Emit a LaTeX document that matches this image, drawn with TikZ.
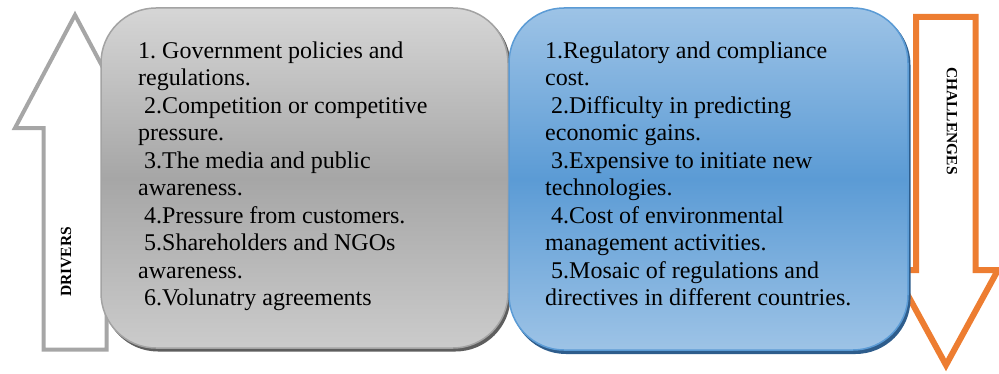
\documentclass[tikz,border=0pt]{standalone}
\usepackage{fontspec}
\setmainfont{Liberation Serif}
\frenchspacing
\definecolor{arrgray}{HTML}{A6A6A6}
\definecolor{arrorange}{HTML}{ED7D31}
\definecolor{gtop}{HTML}{D6D6D6}
\definecolor{gmid}{HTML}{A6A6A6}
\definecolor{gbot}{HTML}{CBCBCB}
\definecolor{gline}{HTML}{A3A3A3}
\definecolor{gshadow}{HTML}{5E5E5E}
\definecolor{btop}{HTML}{9DC3E6}
\definecolor{bmid}{HTML}{5B9BD5}
\definecolor{bbot}{HTML}{9DC3E6}
\definecolor{bline}{HTML}{5B9BD5}
\definecolor{bshadow}{HTML}{2E5D8C}
\tikzset{
  bigarrow/.style={fill=white, line join=miter},
  box/.style={rounded corners=55pt, line width=1.5pt},
  boxtext/.style={anchor=north west, inner sep=0pt, align=left,
    font=\fontsize{24}{27.5}\selectfont, text=black},
  arrlabel/.style={inner sep=0pt, font=\bfseries\fontsize{15.5}{16}\selectfont}
}
\begin{document}
\begin{tikzpicture}[x=1pt,y=1pt]
\useasboundingbox (0,0) rectangle (999,373);
% left arrow (drivers)
\draw[bigarrow, draw=arrgray, line width=4pt]
  (75,358) -- (15,245) -- (43.5,245) -- (43.5,23.5) -- (106.5,23.5)
  -- (106.5,245) -- (135,245) -- cycle;
\node[arrlabel, rotate=90] (drivers) at (66,111) {DRIVERS};
% right arrow (challenges)
\begin{scope}
\clip (0,0) rectangle (999,373);
\draw[bigarrow, draw=arrorange, line width=6pt]
  (916,356) -- (975.5,356) -- (975.5,103) -- (998,103) -- (946,8)
  -- (894,103) -- (916,103) -- cycle;
\end{scope}
\node[arrlabel, rotate=-90] (challenges) at (952,252) {CHALLENGES};
% gray box
\fill[gshadow, rounded corners=55pt] (103,21.5) rectangle (510.5,363);
\draw[box, draw=gline, top color=gtop, bottom color=gbot, middle color=gmid]
  (101,25) rectangle (508,365);
% blue box
\fill[bshadow, rounded corners=55pt] (511,19) rectangle (910.5,363);
\draw[box, draw=bline, top color=btop, bottom color=bbot, middle color=bmid]
  (509,23) rectangle (908,365);
% texts
\node[boxtext] (drvtext) at (138,334.25) {\strut 1. Government policies and\\
regulations.\\
\hspace{6pt}2.Competition or competitive\\
pressure.\\
\hspace{6pt}3.The media and public\\
awareness.\\
\hspace{6pt}4.Pressure from customers.\\
\hspace{6pt}5.Shareholders and NGOs\\
awareness.\\
\hspace{6pt}6.Volunatry agreements};
\node[boxtext] (chltext) at (545,334.25) {\strut 1.Regulatory and compliance\\
cost.\\
\hspace{6pt}2.Difficulty in predicting\\
economic gains.\\
\hspace{6pt}3.Expensive to initiate new\\
technologies.\\
\hspace{6pt}4.Cost of environmental\\
management activities.\\
\hspace{6pt}5.Mosaic of regulations and\\
directives in different countries.};
\end{tikzpicture}
\end{document}
